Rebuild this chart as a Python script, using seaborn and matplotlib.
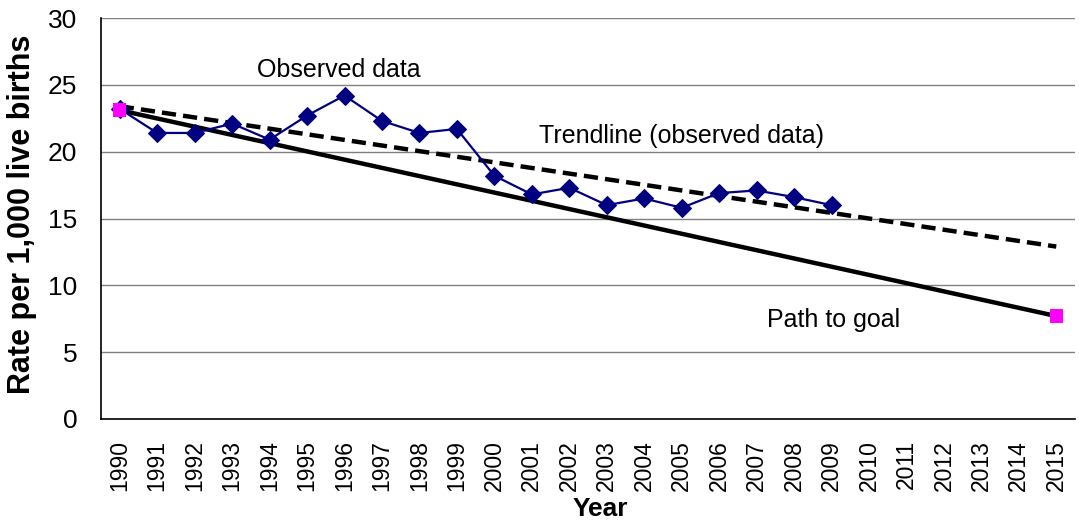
import numpy as np
import pandas as pd
import matplotlib
matplotlib.use("Agg")
import matplotlib.pyplot as plt
from matplotlib.ticker import FixedLocator
import seaborn as sns

# date
years = list(range(1990, 2016))
obs_years = list(range(1990, 2010))
observed = [23.2, 21.4, 21.4, 22.1, 20.9, 22.7, 24.2, 22.3, 21.4, 21.7,
            18.2, 16.8, 17.3, 16.0, 16.5, 15.8, 16.9, 17.1, 16.6, 16.0]
trend_years = [1990, 2015]
trend_vals = [23.4, 12.9]
goal_years = [1990, 2015]
goal_vals = [23.1, 7.7]

df_obs = pd.DataFrame({"Year": obs_years, "Rate": observed})
df_trend = pd.DataFrame({"Year": trend_years, "Rate": trend_vals})
df_goal = pd.DataFrame({"Year": goal_years, "Rate": goal_vals})

sns.set_style("white")
plt.rcParams["font.family"] = ["Liberation Sans", "DejaVu Sans"]
plt.rcParams["text.color"] = "black"
plt.rcParams["axes.labelcolor"] = "black"

fig = plt.figure(figsize=(10.79, 5.21), dpi=100)
ax = fig.add_axes([101 / 1079, 1 - 419 / 521, 974 / 1079, 401 / 521])

# grid orizontal
for v in range(5, 31, 5):
    ax.axhline(v, color="#808080", lw=1, zorder=0)

# path to goal
sns.lineplot(data=df_goal, x="Year", y="Rate", color="black", lw=3.2, ax=ax, zorder=3)
# trendline
sns.lineplot(data=df_trend, x="Year", y="Rate", color="black", lw=3.2, ax=ax,
             linestyle=(0, (3.2, 1.6)), zorder=3)
# observed
sns.lineplot(data=df_obs, x="Year", y="Rate", color="#000080", lw=1.6, marker="D",
             markersize=9.5, markeredgecolor="#000080", ax=ax, zorder=4)
# puncte goal
sns.scatterplot(data=df_goal, x="Year", y="Rate", color="#FF00FF", marker="s", s=95,
                edgecolor="none", ax=ax, zorder=5)

ax.set_xlim(1989.5, 2015.5)
ax.set_ylim(0, 30)
ax.set_yticks(range(0, 31, 5))
ax.set_xticks(years)
ax.set_xticklabels([str(y) for y in years], rotation=90, fontsize=16.5)
ax.xaxis.set_minor_locator(FixedLocator(np.arange(1989.5, 2016, 1)))
ax.tick_params(axis="x", which="major", length=0, pad=15, labelcolor="black")
ax.tick_params(axis="x", which="minor", length=6, width=1, color="#808080", direction="out")
ax.tick_params(axis="y", which="major", length=7, width=1, color="#808080",
               direction="out", labelsize=19, pad=10, labelcolor="black")

for s in ["top", "right"]:
    ax.spines[s].set_visible(False)
for s in ["left", "bottom"]:
    ax.spines[s].set_color("black")
    ax.spines[s].set_linewidth(1.2)

ax.set_xlabel("Year", fontsize=19, fontweight="bold")
ax.xaxis.set_label_coords(0.513, -0.194)
ax.set_ylabel("Rate per 1,000 live births", fontsize=22, fontweight="bold")
ax.yaxis.set_label_coords(-0.066, 0.511)

ax.text(1995.85, 26.1, "Observed data", fontsize=18, ha="center", va="center")
ax.text(2005.0, 21.2, "Trendline (observed data)", fontsize=18, ha="center", va="center")
ax.text(2009.05, 7.4, "Path to goal", fontsize=18, ha="center", va="center")

fig.savefig("out.png", dpi=100)
